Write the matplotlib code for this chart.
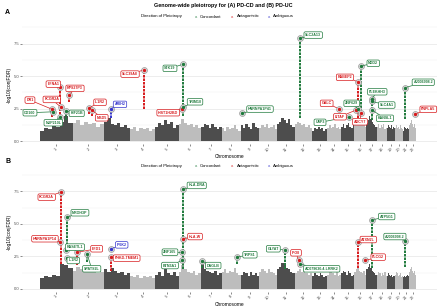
import numpy as np
import matplotlib.pyplot as plt

plt.rcParams['font.family'] = ['Liberation Sans', 'DejaVu Sans']

# hg19 chromosome lengths (Mb)
chrom_len = [249.25, 243.2, 198.0, 191.15, 180.9, 171.1, 159.1, 146.4, 141.2, 135.5, 135.0,
             133.85, 115.2, 107.35, 102.5, 90.35, 81.2, 78.1, 59.1, 63.0, 48.1, 51.3]
chrom_names = [str(i) for i in range(1, 23)]

# top of the dense SNP cloud, 8 segments per chromosome
bg_a = [[0.8, 1.0, 0.9, 1.3, 1.1, 1.5, 1.9, 1.4], [1.4, 1.6, 1.2, 1.5, 1.3, 1.4, 1.1, 1.3],
        [1.5, 1.8, 1.3, 1.2, 1.4, 1.1, 1.2, 1.0], [0.9, 1.1, 0.8, 1.0, 0.9, 1.0, 0.8, 0.9],
        [1.1, 1.4, 1.2, 1.6, 1.3, 1.5, 1.0, 1.2], [1.3, 1.7, 1.4, 1.2, 1.3, 1.1, 1.2, 1.0],
        [1.1, 1.3, 1.2, 1.0, 1.3, 1.1, 0.9, 1.1], [1.0, 0.8, 1.1, 0.9, 1.0, 1.2, 0.9, 0.8],
        [1.2, 1.0, 1.3, 1.1, 0.9, 1.4, 1.1, 1.0], [1.0, 1.2, 1.1, 1.3, 1.0, 1.1, 1.2, 0.9],
        [1.3, 1.5, 1.8, 1.6, 1.4, 1.7, 1.2, 1.1], [1.3, 1.5, 1.4, 1.2, 1.3, 1.1, 1.2, 1.0],
        [0.8, 1.0, 0.9, 1.1, 0.9, 1.0, 0.8, 0.9], [1.0, 1.2, 1.0, 1.1, 1.3, 1.0, 1.1, 0.9],
        [1.1, 1.3, 1.0, 1.2, 1.4, 1.1, 1.0, 1.2], [1.3, 1.5, 1.2, 1.4, 1.6, 1.3, 1.2, 1.1],
        [1.4, 1.6, 1.9, 1.7, 1.5, 1.3, 1.2, 1.1], [1.1, 1.3, 1.0, 1.2, 1.1, 1.3, 0.9, 1.0],
        [1.0, 1.2, 1.1, 1.0, 1.2, 0.9, 1.1, 1.0], [1.0, 1.2, 1.0, 1.1, 0.9, 1.2, 1.0, 0.9],
        [0.8, 0.9, 1.1, 1.0, 0.9, 1.0, 0.8, 0.9], [1.2, 1.4, 1.6, 1.3, 1.2, 1.1, 1.3, 1.0]]
bg_b = [[0.8, 1.0, 0.9, 1.1, 1.0, 1.9, 1.8, 1.6], [1.4, 1.7, 1.5, 1.3, 1.6, 1.4, 1.2, 1.3],
        [1.5, 1.3, 1.6, 1.4, 1.2, 1.3, 1.1, 1.2], [1.0, 0.9, 1.1, 0.8, 1.0, 0.9, 1.0, 0.8],
        [1.1, 1.3, 1.0, 1.5, 1.2, 1.1, 1.3, 1.0], [1.3, 1.8, 1.5, 1.3, 1.2, 1.4, 1.1, 1.2],
        [1.9, 1.5, 1.4, 1.3, 1.2, 1.4, 1.1, 1.2], [1.3, 1.5, 1.2, 1.4, 1.3, 1.6, 1.2, 1.1],
        [1.1, 1.3, 1.2, 1.0, 1.3, 1.1, 1.2, 1.0], [1.3, 1.5, 1.4, 1.2, 1.5, 1.3, 1.2, 1.1],
        [1.5, 1.7, 2.0, 1.8, 1.6, 1.5, 1.3, 1.2], [1.2, 1.4, 1.5, 1.3, 1.4, 1.2, 1.1, 1.2],
        [1.0, 1.2, 1.1, 1.0, 1.2, 1.1, 0.9, 1.0], [1.1, 1.3, 1.4, 1.2, 1.1, 1.3, 1.0, 1.1],
        [1.2, 1.4, 1.3, 1.1, 1.4, 1.2, 1.0, 1.1], [1.3, 1.5, 1.6, 1.4, 1.3, 1.2, 1.4, 1.1],
        [1.5, 1.7, 1.9, 1.6, 1.4, 1.3, 1.2, 1.1], [1.1, 1.3, 1.2, 1.0, 1.2, 1.1, 1.3, 1.0],
        [1.0, 1.2, 1.1, 1.0, 1.1, 0.9, 1.0, 1.0], [1.1, 1.3, 1.2, 1.0, 1.1, 1.2, 0.9, 1.0],
        [0.9, 1.1, 1.0, 0.9, 1.0, 1.1, 0.9, 1.0], [1.3, 1.5, 1.7, 1.4, 1.3, 1.2, 1.4, 1.1]]

# (A) PD-CD labelled loci
a_gene = ['DR1', 'CD160', 'EFNA1', 'FCGR2A', 'NUP210L', 'RPS27P3', 'KIF21B', 'IL1R2', 'MBD5',
          'ARIH2', 'SLC39A8', 'HIST1H2BD', 'STK19', 'TRIM10', 'HNRNPA1P41', 'SLC2A13', 'NOD2',
          'RABEP2', 'GALC', 'USP3', 'LITAF', 'ZNF629', 'ADCY7', 'PLEKHH3', 'SLC4A1', 'KANSL1',
          'AJ006998.2', 'PNPLA5']
a_chr = [1, 1, 1, 1, 1, 1, 1, 2, 2, 3, 4, 6, 6, 6, 9, 12, 16, 16, 14, 15, 16, 16, 16, 17, 17, 17, 21, 22]
a_pos = [94, 102, 155, 161.5, 154, 224.5, 201, 126, 149, 49.4, 103, 26, 31.9, 30.1, 6.6, 40.2,
         50.7, 28.9, 88.3, 63.8, 11.6, 30.8, 50.3, 40.8, 42.3, 44.1, 15.6, 44.3]
a_top = [2.44, 2.25, 4.18, 2.6, 1.87, 3.54, 2.33, 2.56, 2.38, 2.5, 5.46, 2.5, 5.9, 2.6, 2.13, 7.9,
         5.77, 4.56, 2.5, 1.87, 2.38, 2.45, 2.13, 3.23, 3.05, 2.38, 4.1, 2.08]
a_low = [1.85, 2.25, 1.8, 2.6, 1.87, 3.0, 1.6, 2.1, 1.9, 1.8, 2.5, 2.5, 1.9, 2.6, 2.13, 1.8,
         2.0, 1.8, 2.5, 1.87, 2.38, 2.45, 2.13, 1.6, 3.05, 2.38, 1.7, 2.08]
a_dir = ['A', 'C', 'A', 'A', 'C', 'A', 'C', 'A', 'A', 'M', 'A', 'A', 'C', 'C', 'C', 'C', 'C',
         'A', 'A', 'C', 'A', 'C', 'A', 'C', 'C', 'C', 'C', 'A']

# (B) PD-UC labelled loci
b_gene = ['FCGR2A', 'MROH3P', 'HNRNPA1P14', 'RASETL1', 'IL1R2', 'EFD1', 'SPATS2L', 'IP6K2',
          'PHKD-TMEM1', 'HLA-DRA', 'HLA-W', 'ZNF165', 'BTN3A1', 'DAGLB', 'TRPS1', 'GLYAT', 'IPO8',
          'AC079630.4-LRRK2', 'ATXN2L', 'PLCG2', 'ATP5G1', 'AJ006998.2']
b_chr = [1, 1, 1, 1, 1, 2, 2, 3, 3, 6, 6, 6, 6, 7, 8, 11, 12, 12, 16, 16, 17, 21]
b_pos = [161.5, 204.6, 153, 199, 205, 32, 111, 51.6, 51.6, 32.4, 29.9, 28.05, 26.4, 5.5, 116,
         58.4, 30.8, 40.2, 28.8, 81.8, 47, 15.6]
b_top = [7.44, 5.5, 3.6, 3.0, 2.4, 2.8, 2.7, 3.08, 2.44, 7.64, 3.85, 2.8, 2.18, 2.13, 2.44, 3.0,
         2.18, 1.9, 3.6, 2.18, 5.3, 3.7]
b_low = [1.9, 2.8, 3.6, 3.0, 2.4, 1.8, 2.1, 3.08, 1.4, 1.5, 3.85, 2.8, 2.18, 1.6, 1.9, 1.5,
         1.7, 1.9, 1.6, 2.18, 1.6, 1.7]
b_dir = ['A', 'C', 'A', 'C', 'C', 'A', 'C', 'M', 'A', 'C', 'A', 'C', 'C', 'C', 'C', 'C', 'A',
         'C', 'A', 'A', 'C', 'C']

# label box centres (genome Mb, -log10 value), layout only
a_lab_xy = [(-77, 3.15), (-77, 2.18), (102, 4.38), (90, 3.2), (102, 1.41), (268, 4.05),
            (281, 2.13), (460, 2.98), (473, 1.79), (613, 2.82), (690, 5.15), (983, 2.18),
            (996, 5.59), (1188, 3.02), (1686, 2.46), (2094, 8.15), (2554, 5.98), (2337, 4.9),
            (2197, 2.9), (2146, 1.44), (2299, 1.87), (2389, 2.9), (2452, 1.48), (2585, 3.79),
            (2657, 2.77), (2644, 1.75), (2937, 4.52), (2976, 2.44)]
b_lab_xy = [(51, 7.05), (306, 5.85), (38, 3.85), (268, 3.21), (255, 2.18), (434, 3.08),
            (396, 1.54), (626, 3.38), (664, 2.36), (1201, 7.95), (1188, 4.02), (996, 2.82),
            (996, 1.79), (1328, 1.79), (1609, 2.62), (1788, 3.08), (1962, 2.77), (2159, 1.54),
            (2516, 3.79), (2592, 2.44), (2657, 5.56), (2720, 4.02)]

dir_color = {'C': '#1f7a3c', 'A': '#d7191c', 'M': '#3333cc'}
chrom_start = np.concatenate([[0], np.cumsum(chrom_len)[:-1]])
chrom_mid = chrom_start + np.array(chrom_len) / 2


def manhattan(ax, bg, genes, chrs, pos, top, low, dirs, lab_xy):
    for i in range(22):
        w = chrom_len[i] / len(bg[i])
        xs = chrom_start[i] + w * np.arange(len(bg[i]))
        ax.bar(xs, bg[i], width=w, align='edge', lw=0,
               color='#4d4d4d' if i % 2 == 0 else '#bdbdbd', zorder=2)
    for g, c, p, t, l, d, (lx, ly) in zip(genes, chrs, pos, top, low, dirs, lab_xy):
        x = chrom_start[c - 1] + p
        col = dir_color[d]
        if t > l:
            ax.plot([x, x], [l, t], color=col, lw=1.4, ls=(0, (1.3, 0.5)), zorder=3)
        ax.plot(x, t, 'o', ms=4.2, mfc='#dddddd', mec='#999999', mew=0.5, zorder=4)
        ax.plot(x, t, 'o', ms=1.4, color=col, zorder=5)
        ax.annotate(g, xy=(x, t), xytext=(lx, ly), fontsize=2.6, fontweight='bold', color=col,
                    ha='center', va='center', zorder=6,
                    bbox=dict(boxstyle='round,pad=0.35,rounding_size=0.4', fc='white', ec=col, lw=0.5),
                    arrowprops=dict(arrowstyle='-', color=col, lw=0.5, shrinkA=0, shrinkB=1.5))
    ax.set_xlim(-138, 3042)
    ax.set_ylim(-0.25, 8.95)
    ax.set_yticks([0, 2.5, 5, 7.5])
    ax.set_yticklabels(['0.0', '2.5', '5.0', '7.5'])
    ax.set_yticks([1.25, 3.75, 6.25, 8.75], minor=True)
    ax.set_xticks(chrom_mid)
    ax.set_xticklabels(chrom_names, rotation=45, ha='center', va='top')
    ax.grid(axis='y', which='major', color='#e6e6e6', lw=0.5, zorder=0)
    ax.grid(axis='y', which='minor', color='#f2f2f2', lw=0.35, zorder=0)
    for s in ax.spines.values():
        s.set_visible(False)
    ax.tick_params(which='major', length=1.5, width=0.4, color='#333333', labelsize=3,
                   labelcolor='#4d4d4d', pad=0.4)
    ax.tick_params(which='minor', length=0)
    ax.set_xlabel('Chromosome', fontsize=3.5, labelpad=0.5)
    ax.set_ylabel('-log10(conjFDR)', fontsize=3.5, labelpad=1.5)


fig = plt.figure(figsize=(4.4, 3.06), dpi=100)
ax_a = fig.add_axes([0.05, 0.5284, 0.943, 0.391])
ax_b = fig.add_axes([0.05, 0.0455, 0.943, 0.391])
manhattan(ax_a, bg_a, a_gene, a_chr, a_pos, a_top, a_low, a_dir, a_lab_xy)
manhattan(ax_b, bg_b, b_gene, b_chr, b_pos, b_top, b_low, b_dir, b_lab_xy)

fig.text(223 / 440, 1 - 5 / 306, 'Genome-wide pleiotropy for (A) PD-CD and (B) PD-UC',
         ha='center', va='center', fontsize=3.9, fontweight='bold')


def legend_row(ypx, letter):
    y = 1 - ypx / 306
    fig.text(5 / 440, y + 4 / 306, letter, fontsize=5, fontweight='bold', va='center')
    fig.text(141 / 440, y, 'Direction of Pleiotropy', fontsize=3.1, va='center')
    for kx, tx, name, d in [(196, 200, 'Concordant', 'C'), (232, 237, 'Antagonistic', 'A'),
                            (269, 273, 'Ambiguous', 'M')]:
        fig.text(kx / 440, y, 'a', fontsize=3, fontweight='bold', color=dir_color[d],
                 alpha=0.6, ha='center', va='center')
        fig.text(tx / 440, y, name, fontsize=3.1, va='center')


legend_row(16.5, 'A')
legend_row(166, 'B')

fig.savefig('out.png', dpi=100)
